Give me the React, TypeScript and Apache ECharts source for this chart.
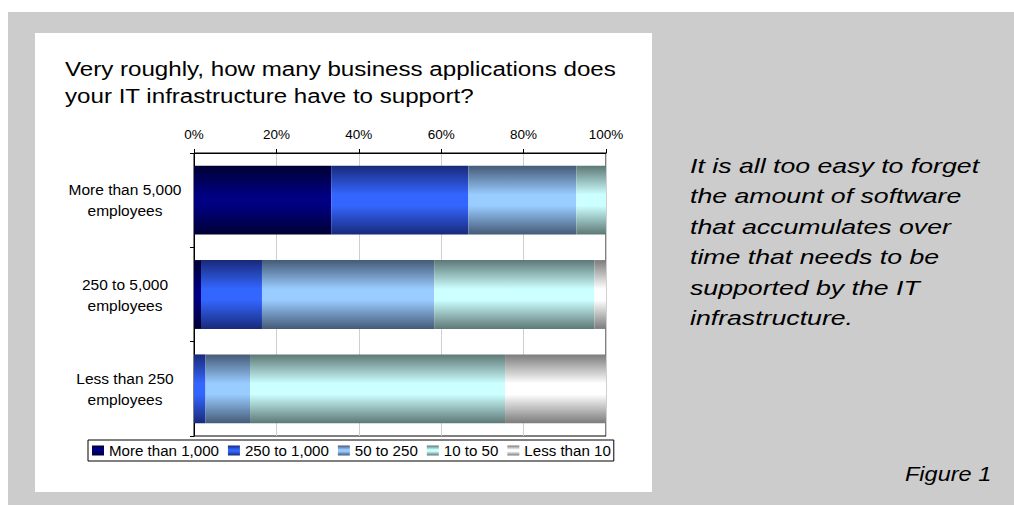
import React, { useEffect, useRef } from "react";
import * as echarts from "echarts";

const categories = ["More than 5,000\nemployees", "250 to 5,000\nemployees", "Less than 250\nemployees"];
const seriesNames = ["More than 1,000", "250 to 1,000", "50 to 250", "10 to 50", "Less than 10"];
const moreThan1000 = [33.3, 1.7, 0];
const from250To1000 = [33.3, 14.8, 2.8];
const from50To250 = [26.2, 41.8, 10.8];
const from10To50 = [7.2, 38.9, 61.9];
const lessThan10 = [0, 2.8, 24.5];
const xTicks = [0, 20, 40, 60, 80, 100];

const seriesValues = [moreThan1000, from250To1000, from50To250, from10To50, lessThan10];
const edgeColors = ["#000033", "#19297a", "#455a77", "#5d7876", "#7b7b7b"];
const midColors = ["#000080", "#3366ff", "#99ccff", "#ccffff", "#ffffff"];

const FONT = "'Liberation Sans', Arial, Helvetica, sans-serif";

function grad(i: number) {
  return new echarts.graphic.LinearGradient(0, 0, 0, 1, [
    { offset: 0, color: edgeColors[i] },
    { offset: 0.42, color: midColors[i] },
    { offset: 0.58, color: midColors[i] },
    { offset: 1, color: edgeColors[i] },
  ]);
}

export default function App() {
  const ref = useRef<HTMLDivElement>(null);
  useEffect(() => {
    if (!ref.current) return;
    const chart = echarts.init(ref.current, null, { renderer: "svg" });
    chart.setOption({
      animation: false,
      backgroundColor: "#ffffff",
      textStyle: { fontFamily: FONT },
      graphic: [
        { type: "rect", z: -10, silent: true, shape: { x: 8, y: 12, width: 1006, height: 493 }, style: { fill: "#cccccc" } },
        { type: "rect", z: -9, silent: true, shape: { x: 35, y: 33, width: 617, height: 459 }, style: { fill: "#ffffff" } },
        {
          type: "text", x: 65, y: 56, scaleX: 1.15, silent: true,
          style: {
            text: "Very roughly, how many business applications does\nyour IT infrastructure have to support?",
            font: `21px ${FONT}`, fill: "#000", lineHeight: 27, verticalAlign: "top", align: "left",
          },
        },
        {
          type: "text", x: 690, y: 150, scaleX: 1.27, silent: true,
          style: {
            text: "It is all too easy to forget\nthe amount of software\nthat accumulates over\ntime that needs to be\nsupported by the IT\ninfrastructure.",
            font: `italic 21px ${FONT}`, fill: "#000", lineHeight: 30.5, verticalAlign: "top", align: "left",
          },
        },
        {
          type: "text", x: 905, y: 463, scaleX: 1.12, silent: true,
          style: { text: "Figure 1", font: `italic 21px ${FONT}`, fill: "#000", verticalAlign: "top", align: "left" },
        },
      ],
      grid: {
        left: 194, top: 153, width: 412, height: 283,
        show: true, borderColor: "#000", borderWidth: 1, backgroundColor: "transparent",
      },
      xAxis: {
        type: "value", position: "top", min: 0, max: 100, interval: 20,
        axisLine: { show: true, lineStyle: { color: "#000", width: 1 } },
        axisTick: { show: true, length: 4, lineStyle: { color: "#000" } },
        axisLabel: {
          formatter: (v: number) => (xTicks.includes(v) ? `${v}%` : ""),
          fontSize: 13.5, color: "#000", margin: 12, fontFamily: FONT,
        },
        splitLine: { show: true, lineStyle: { color: "#cfcfcf", width: 1 } },
      },
      yAxis: {
        type: "category", inverse: true, data: categories,
        axisLine: { show: true, lineStyle: { color: "#000", width: 1 } },
        axisTick: { show: true, length: 4, lineStyle: { color: "#000" } },
        axisLabel: { align: "center", margin: 69, fontSize: 15.5, lineHeight: 21, color: "#000", fontFamily: FONT },
        splitLine: { show: false },
      },
      legend: {
        left: 88, top: 440, orient: "horizontal",
        borderColor: "#000", borderWidth: 1, borderRadius: 0, padding: [3, 3, 3, 4],
        itemWidth: 12, itemHeight: 10, itemGap: 9,
        icon: "rect",
        textStyle: { fontSize: 15.1, color: "#000", fontFamily: FONT },
        data: seriesNames,
      },
      series: seriesValues.map((vals, i) => ({
        name: seriesNames[i],
        type: "bar",
        stack: "total",
        barCategoryGap: "27%",
        data: vals,
        itemStyle: { color: grad(i) },
      })),
    });
    return () => chart.dispose();
  }, []);
  return <div ref={ref} style={{ position: "absolute", left: 0, top: 0, width: 1014, height: 505 }} />;
}
